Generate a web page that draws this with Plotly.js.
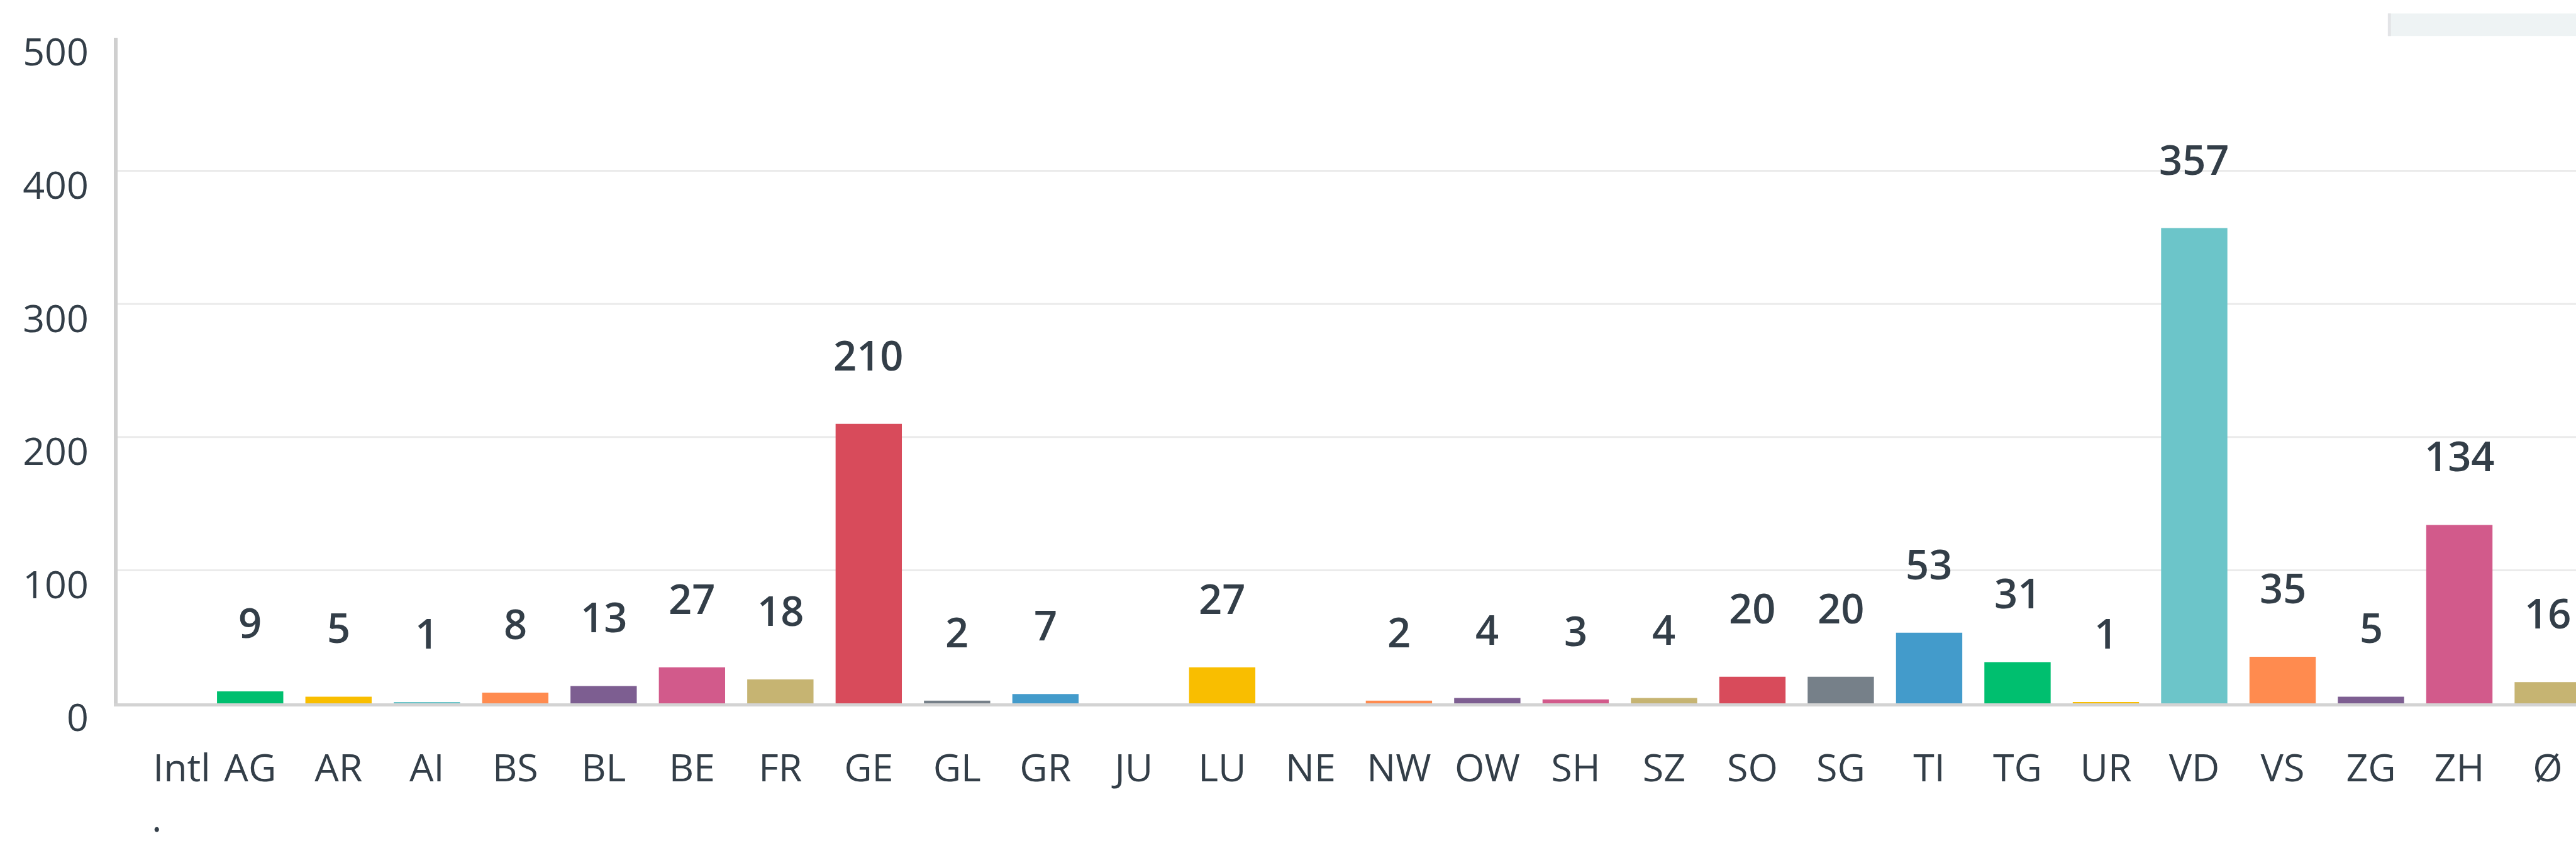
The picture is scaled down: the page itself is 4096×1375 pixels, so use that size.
<!DOCTYPE html>
<html>
<head>
<meta charset="utf-8">
<script src="https://cdn.plot.ly/plotly-3.0.1.min.js"></script>
<style>
  html, body { margin: 0; padding: 0; background: #ffffff; overflow: hidden; }
  #chart { width: 4096px; height: 1375px; }
</style>
</head>
<body>
<div id="chart"></div>
<script>
// ---- data ----
const categories = ["Intl", "AG", "AR", "AI", "BS", "BL", "BE", "FR", "GE", "GL", "GR", "JU", "LU", "NE",
                    "NW", "OW", "SH", "SZ", "SO", "SG", "TI", "TG", "UR", "VD", "VS", "ZG", "ZH", "Ø"];
const counts = [0, 9, 5, 1, 8, 13, 27, 18, 210, 2, 7, 0, 27, 0,
                2, 4, 3, 4, 20, 20, 53, 31, 1, 357, 35, 5, 134, 16];
const tickLabels = ["\u00a0\u00a0\u00a0\u00a0Intl<br>.\u00a0", "AG", "AR", "AI", "BS", "BL", "BE", "FR", "GE", "GL", "GR", "JU", "LU", "NE",
                    "NW", "OW", "SH", "SZ", "SO", "SG", "TI", "TG", "UR", "VD", "VS", "ZG", "ZH", "Ø"];
const yTicks = [0, 100, 200, 300, 400, 500];
const gridValues = [100, 200, 300, 400];
const palette = ["#00bf6f", "#f9be00", "#6cc5c9", "#ff8b4f", "#7d5e91",
                 "#d25a8b", "#c6b472", "#d84b5b", "#768089", "#439bcb"];

// ---- styling ----
const textColor = "#333e48";
const fontFamily = "'Open Sans', 'Noto Sans', sans-serif";
const barColors = categories.map((c, i) => palette[(i + palette.length - 1) % palette.length]);

const trace = {
  type: "bar",
  x: categories,
  y: counts,
  marker: { color: barColors, line: { width: 0 } },
  hoverinfo: "none",
  showlegend: false
};

const annotations = categories
  .map((c, i) => ({ c: c, v: counts[i] }))
  .filter(d => d.v > 0)
  .map(d => ({
    x: d.c, y: d.v, xref: "x", yref: "y",
    text: String(d.v),
    showarrow: false,
    xanchor: "center", yanchor: "middle",
    yshift: 110,
    font: { family: fontFamily, size: 65, color: textColor, weight: 600 }
  }));

const shapes = gridValues.map(v => ({
  type: "line", xref: "paper", yref: "y",
  x0: 0, x1: 1, y0: v, y1: v,
  line: { color: "#ebebeb", width: 3 },
  layer: "below"
}));
// light panel at the top right edge (cut off in the reference)
shapes.push({
  type: "rect", xref: "paper", yref: "paper",
  x0: 0.9235, x1: 1.01, y0: 1.0026, y1: 1.0365,
  fillcolor: "#eef3f4", line: { width: 0 }, layer: "above"
});
shapes.push({
  type: "line", xref: "paper", yref: "paper",
  x0: 0.9241, x1: 0.9241, y0: 1.0026, y1: 1.0365,
  line: { color: "#e3e4e7", width: 5 }, layer: "above"
});

const layout = {
  width: 4096,
  height: 1375,
  margin: { l: 187, r: 0, t: 60, b: 257, pad: 0 },
  paper_bgcolor: "#ffffff",
  plot_bgcolor: "#ffffff",
  bargap: 0.25,
  font: { family: fontFamily, color: textColor },
  xaxis: {
    type: "category",
    range: [-0.5, 27.32],
    tickmode: "array",
    tickvals: categories,
    ticktext: tickLabels,
    tickfont: { family: fontFamily, size: 61, color: textColor },
    ticks: "",
    ticklabelstandoff: 46,
    showgrid: false,
    zeroline: false,
    showline: true,
    linecolor: "#d3d3d3",
    linewidth: 5,
    fixedrange: true
  },
  yaxis: {
    range: [0, 500],
    tickmode: "array",
    tickvals: yTicks,
    tickfont: { family: fontFamily, size: 61, color: textColor },
    ticks: "",
    ticklabelstandoff: 28,
    ticklabelshift: 23,
    showgrid: false,
    zeroline: false,
    showline: true,
    linecolor: "#cfcfcf",
    linewidth: 6,
    fixedrange: true
  },
  annotations: annotations,
  shapes: shapes
};

Plotly.newPlot("chart", [trace], layout, { displayModeBar: false, staticPlot: true });
</script>
</body>
</html>
